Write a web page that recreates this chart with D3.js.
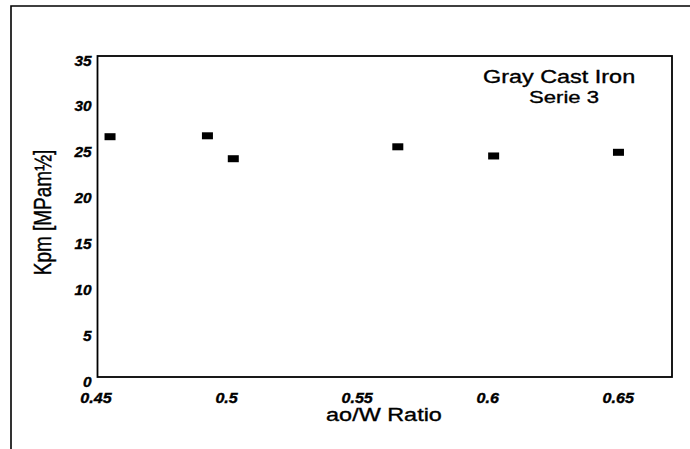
<!DOCTYPE html>
<html>
<head>
<meta charset="utf-8">
<script src="https://cdn.jsdelivr.net/npm/d3@7"></script>
<style>
  body { margin: 0; background: #fff; }
  svg { display: block; font-family: "Liberation Sans", Arial, sans-serif; }
  text { fill: #000; stroke: #000; stroke-width: 0.35px; }
</style>
</head>
<body>
<svg width="690" height="449"></svg>
<script>
// data
var ratios = [0.4548, 0.4921, 0.5020, 0.5650, 0.6017, 0.6495];
var kpm = [26.2, 26.3, 23.8, 25.1, 24.1, 24.5];
var xTicks = [0.45, 0.5, 0.55, 0.6, 0.65];
var xTickLabels = ['0.45', '0.5', '0.55', '0.6', '0.65'];
var yTicks = [0, 5, 10, 15, 20, 25, 30, 35];

var svg = d3.select('svg');

// the scan is a bit stretched sideways, so text gets widened too
var stretch = 1.3;
function widen(sel, f) {
    sel.each(function() {
        var w = this.getComputedTextLength();
        d3.select(this).attr('textLength', w * (f || stretch)).attr('lengthAdjust', 'spacingAndGlyphs');
    });
}

// outer frame (left + top only)
svg.append('path')
    .attr('d', 'M11,449 L11,6 L690,6')
    .style('fill', 'none')
    .style('stroke', '#000')
    .style('stroke-width', 1.6);

var xScale = d3.scaleLinear().domain([0.45, 0.67]).range([97.5, 672]);
var yScale = d3.scaleLinear().domain([0, 35]).range([377, 56]);

// plot box
svg.append('rect')
    .attr('x', xScale(0.45))
    .attr('y', yScale(35))
    .attr('width', xScale(0.67) - xScale(0.45))
    .attr('height', yScale(0) - yScale(35))
    .style('fill', 'none')
    .style('stroke', '#000')
    .style('stroke-width', 1.8);

// axes without tick marks, just labels
var xAxis = d3.axisBottom(xScale).tickValues(xTicks).tickSize(0).tickPadding(0)
    .tickFormat(function(d, i) { return xTickLabels[i]; });
var gX = svg.append('g')
    .attr('transform', 'translate(0,' + yScale(0) + ')')
    .call(xAxis);
gX.select('.domain').remove();
gX.selectAll('text')
    .attr('dy', null)
    .attr('x', -2)
    .attr('y', 26)
    .style('font-size', '14px')
    .style('font-weight', 'bold')
    .style('font-style', 'italic')
    .call(widen, 1.15);

var yAxis = d3.axisLeft(yScale).tickValues(yTicks).tickSize(0).tickPadding(6);
var gY = svg.append('g')
    .attr('transform', 'translate(' + xScale(0.45) + ',0)')
    .call(yAxis);
gY.select('.domain').remove();
gY.selectAll('text')
    .attr('dy', '0.5em')
    .attr('y', 2)
    .style('font-size', '14px')
    .style('font-weight', 'bold')
    .style('font-style', 'italic')
    .call(widen, 1.1);

// points: small filled rectangles
var pts = ratios.map(function(r, i) { return { x: r, y: kpm[i] }; });
svg.selectAll('.pt')
    .data(pts)
    .enter()
    .append('rect')
    .attr('class', 'pt')
    .attr('x', function(d) { return xScale(d.x) - 5.5; })
    .attr('y', function(d) { return yScale(d.y) - 3.5; })
    .attr('width', 11)
    .attr('height', 7)
    .style('fill', '#000');

// labels
svg.append('text')
    .attr('x', 483)
    .attr('y', 82.5)
    .style('font-size', '18px')
    .text('Gray Cast Iron')
    .call(widen);

svg.append('text')
    .attr('x', 529)
    .attr('y', 102.5)
    .style('font-size', '17px')
    .text('Serie 3')
    .call(widen);

svg.append('text')
    .attr('x', 384)
    .attr('y', 421)
    .attr('text-anchor', 'middle')
    .style('font-size', '18px')
    .text('ao/W Ratio')
    .call(widen);

// rotated label, widened across its glyph height like the rest
svg.append('text')
    .attr('transform', 'translate(51,212.5) scale(1.3,1) rotate(-90)')
    .attr('text-anchor', 'middle')
    .style('font-size', '19px')
    .text('Kpm [MPam½]');
</script>
</body>
</html>
